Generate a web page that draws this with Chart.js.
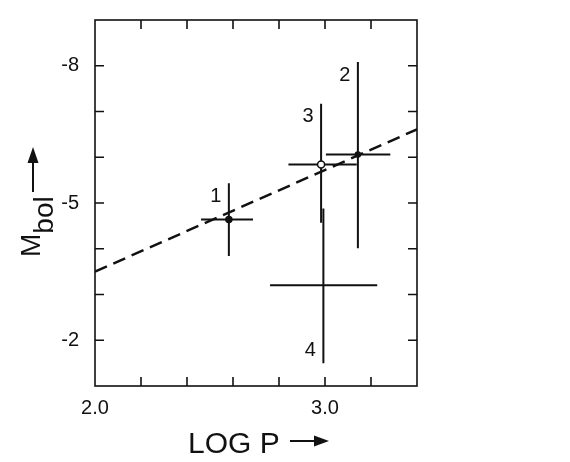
<!DOCTYPE html>
<html>
<head>
<meta charset="utf-8">
<script src="https://cdn.jsdelivr.net/npm/chart.js@4.4.1/dist/chart.umd.min.js"></script>
<style>
  body { margin: 0; background: #fff; }
  canvas { display: block; }
</style>
</head>
<body>
<canvas id="plChart" width="570" height="462"></canvas>
<script>
// stars: log P, M_bol and their error bars
const starNames = ['1', '2', '3', '4'];
const logP = [2.582, 3.143, 2.983, 2.993];
const mBol = [-4.64, -6.06, -5.84, -3.20];
const logPLow = [2.461, 3.004, 2.841, 2.761];
const logPHigh = [2.687, 3.284, 3.138, 3.227];
const mBolBright = [-5.43, -8.08, -7.17, -4.88];
const mBolFaint = [-3.84, -4.01, -4.57, -1.50];
const markerSize = [3, 2.5, 3.5, 0];
const markerFill = ['#111', '#111', '#fff', '#111'];
const labelEnd = ['top', 'top', 'top', 'bottom'];

// fitted relation (dashed)
const fitLogP = [2.0, 3.4];
const fitMBol = [-3.50, -6.61];

// axes
const xMin = 2.0, xMax = 3.4, xStep = 0.2;
const yMin = -9, yMax = -1, yStep = 1;
const xTickLabels = [2.0, 3.0];
const yTickLabels = [-8, -5, -2];

const INK = '#111';
const FONT = "'Liberation Sans', 'DejaVu Sans', sans-serif";

const errorBars = {
    id: 'errorBars',
    beforeDatasetsDraw(chart) {
        const { ctx, scales: { x, y } } = chart;
        ctx.save();
        ctx.strokeStyle = INK;
        ctx.lineWidth = 2;
        logP.forEach((p, i) => {
            const px = x.getPixelForValue(p);
            const py = y.getPixelForValue(mBol[i]);
            ctx.beginPath();
            ctx.moveTo(x.getPixelForValue(logPLow[i]), py);
            ctx.lineTo(x.getPixelForValue(logPHigh[i]), py);
            ctx.moveTo(px, y.getPixelForValue(mBolBright[i]));
            ctx.lineTo(px, y.getPixelForValue(mBolFaint[i]));
            ctx.stroke();
        });
        ctx.restore();
    },
    afterDatasetsDraw(chart) {
        const { ctx, scales: { x, y } } = chart;
        ctx.save();
        ctx.fillStyle = INK;
        ctx.font = '20px ' + FONT;
        ctx.textAlign = 'center';
        ctx.textBaseline = 'middle';
        starNames.forEach((n, i) => {
            const px = x.getPixelForValue(logP[i]) - 13;
            const py = labelEnd[i] === 'top'
                ? y.getPixelForValue(mBolBright[i]) + 13
                : y.getPixelForValue(mBolFaint[i]) - 13;
            ctx.fillText(n, px, py);
        });
        ctx.restore();
    }
};

const frame = {
    id: 'frame',
    afterDraw(chart) {
        const { ctx, chartArea: a, scales: { x, y } } = chart;
        const tick = 9;
        ctx.save();
        ctx.strokeStyle = INK;
        ctx.lineWidth = 1.6;
        ctx.strokeRect(a.left, a.top, a.right - a.left, a.bottom - a.top);
        ctx.beginPath();
        x.ticks.forEach(t => {
            if (t.value <= xMin + 1e-6 || t.value >= xMax - 1e-6) return;
            const px = x.getPixelForValue(t.value);
            ctx.moveTo(px, a.bottom); ctx.lineTo(px, a.bottom - tick);
            ctx.moveTo(px, a.top); ctx.lineTo(px, a.top + tick);
        });
        y.ticks.forEach(t => {
            if (t.value <= yMin || t.value >= yMax) return;
            const py = y.getPixelForValue(t.value);
            ctx.moveTo(a.left, py); ctx.lineTo(a.left + tick, py);
            ctx.moveTo(a.right, py); ctx.lineTo(a.right - tick, py);
        });
        ctx.stroke();

        // x title with arrow
        ctx.fillStyle = INK;
        ctx.font = '30px ' + FONT;
        ctx.textAlign = 'left';
        ctx.textBaseline = 'alphabetic';
        ctx.fillText('LOG P', 188, 453);
        ctx.lineWidth = 2;
        ctx.beginPath();
        ctx.moveTo(290, 441); ctx.lineTo(318, 441);
        ctx.stroke();
        ctx.beginPath();
        ctx.moveTo(329, 441); ctx.lineTo(314, 435.5); ctx.lineTo(314, 446.5);
        ctx.closePath(); ctx.fill();

        // y title: M_bol with arrow, rotated
        ctx.translate(40, 257);
        ctx.rotate(-Math.PI / 2);
        ctx.font = '28px ' + FONT;
        ctx.fillText('M', 0, 0);
        const mw = ctx.measureText('M').width;
        ctx.fillText('bol', mw, 13);
        ctx.beginPath();
        ctx.moveTo(65, -7); ctx.lineTo(97, -7);
        ctx.stroke();
        ctx.beginPath();
        ctx.moveTo(110, -7); ctx.lineTo(94, -12.5); ctx.lineTo(94, -1.5);
        ctx.closePath(); ctx.fill();
        ctx.restore();
    }
};

new Chart(document.getElementById('plChart'), {
    type: 'scatter',
    data: {
        datasets: [
            {
                type: 'line',
                data: fitLogP.map((p, i) => ({ x: p, y: fitMBol[i] })),
                borderColor: INK,
                borderWidth: 2.5,
                borderDash: [13, 7],
                pointRadius: 0,
                fill: false
            },
            {
                data: logP.map((p, i) => ({ x: p, y: mBol[i] })),
                pointRadius: markerSize,
                pointBackgroundColor: markerFill,
                pointBorderColor: INK,
                pointBorderWidth: 1.5
            }
        ]
    },
    options: {
        responsive: false,
        animation: false,
        devicePixelRatio: 1,
        layout: { padding: { left: 0, top: 19, right: 153, bottom: 0 } },
        plugins: { legend: { display: false }, tooltip: { enabled: false } },
        scales: {
            x: {
                type: 'linear',
                min: xMin, max: xMax,
                grid: { display: false },
                border: { display: false },
                afterFit: s => { s.height = 76; },
                ticks: {
                    stepSize: xStep,
                    padding: 2,
                    color: INK,
                    font: { size: 20, family: FONT },
                    maxRotation: 0,
                    autoSkip: false,
                    callback: v => {
                        const hit = xTickLabels.find(l => Math.abs(l - v) < 1e-6);
                        return hit === undefined ? '' : hit.toFixed(1);
                    }
                }
            },
            y: {
                type: 'linear',
                reverse: true,
                min: yMin, max: yMax,
                grid: { display: false },
                border: { display: false },
                afterFit: s => { s.width = 95; },
                ticks: {
                    stepSize: yStep,
                    padding: 8,
                    color: INK,
                    font: { size: 20, family: FONT },
                    autoSkip: false,
                    callback: v => yTickLabels.includes(v) ? String(v) : ''
                }
            }
        }
    },
    plugins: [errorBars, frame]
});
</script>
</body>
</html>
